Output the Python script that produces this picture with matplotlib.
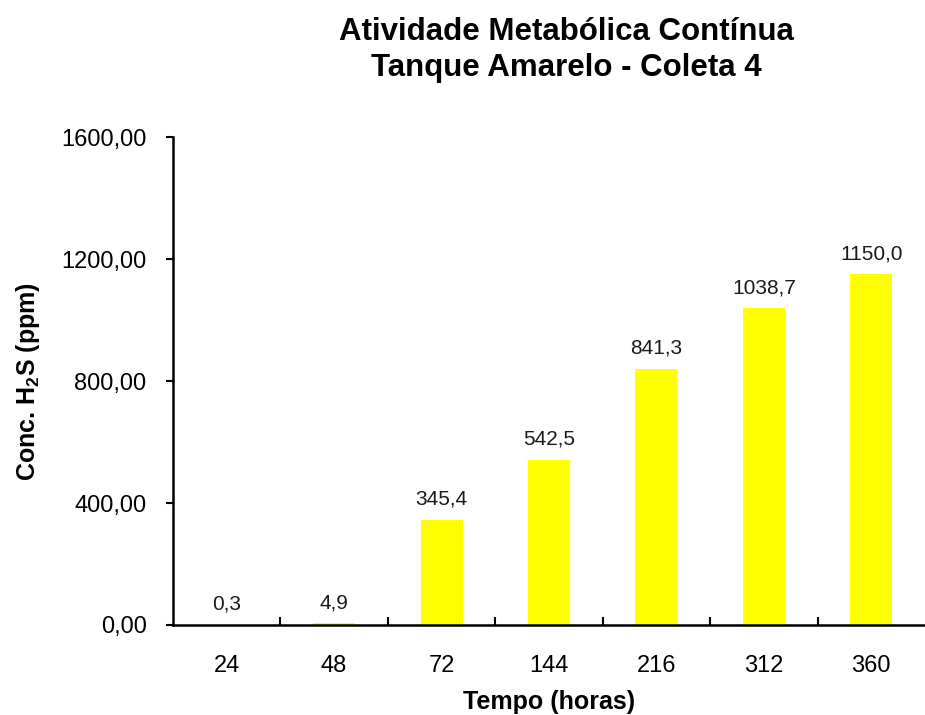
import numpy as np
import matplotlib
matplotlib.use("Agg")
import matplotlib.pyplot as plt
from matplotlib.ticker import FuncFormatter

plt.rcParams['font.family'] = ['Liberation Sans', 'DejaVu Sans']
plt.rcParams['mathtext.fontset'] = 'custom'
plt.rcParams['mathtext.rm'] = 'Liberation Sans'
plt.rcParams['mathtext.bf'] = 'Liberation Sans:bold'

# tempo (horas) e concentracao de H2S (ppm)
horas = ["24", "48", "72", "144", "216", "312", "360"]
conc = [0.3, 4.9, 345.4, 542.5, 841.3, 1038.7, 1150.0]
yticks = [0, 400, 800, 1200, 1600]

fig = plt.figure(figsize=(9.25, 7.15), dpi=100)
ax = fig.add_axes([0.187, 0.126, 0.813, 0.682])

x = np.arange(len(horas))
bars = ax.bar(x, conc, width=0.39, color="#FFFF00", zorder=2)

for xi, v in zip(x, conc):
    ax.annotate(f"{v:.1f}".replace(".", ","), (xi, v), xytext=(0, 8),
                textcoords="offset points", ha="center", va="bottom",
                fontsize=15, color="#1a1a1a")

ax.set_xlim(-0.5, len(horas) - 0.5)
ax.set_ylim(0, 1600)
ax.set_yticks(yticks)
ax.yaxis.set_major_formatter(FuncFormatter(lambda v, p: f"{v:.2f}".replace(".", ",")))

ax.set_xticks(x)
ax.set_xticklabels(horas)
ax.set_xticks(np.arange(0.5, len(horas) - 0.5), minor=True)
ax.tick_params(axis="x", which="major", length=0, pad=22, labelsize=17)
ax.tick_params(axis="x", which="minor", direction="in", length=6, width=1.5)
ax.tick_params(axis="y", direction="out", length=5, width=1.5, pad=14, labelsize=17)

for s in ["top", "right"]:
    ax.spines[s].set_visible(False)
for s in ["left", "bottom"]:
    ax.spines[s].set_linewidth(1.8)

ax.set_xlabel("Tempo (horas)", fontsize=18, fontweight="bold", labelpad=9)
ax.set_ylabel(r"Conc. H$_{\mathbf{2}}$S (ppm)", fontsize=18, fontweight="bold", labelpad=14)

fig.text(0.612, 0.93, "Atividade Metabólica Contínua\nTanque Amarelo - Coleta 4",
         ha="center", va="center", fontsize=22.5, fontweight="bold", linespacing=1.25)

fig.savefig("out.png", dpi=100)
